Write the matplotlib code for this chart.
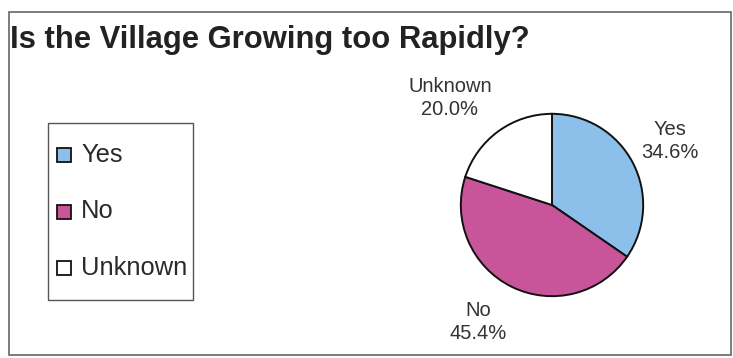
import numpy as np
import matplotlib.pyplot as plt
from matplotlib.patches import Rectangle

plt.rcParams['font.family'] = ['Liberation Sans', 'DejaVu Sans']

title = 'Is the Village Growing too Rapidly?'
categories = ['Yes', 'No', 'Unknown']
shares = [34.6, 45.4, 20.0]
colors = ['#8cc0ea', '#c8559a', '#ffffff']

W, H = 733, 358
fig = plt.figure(figsize=(W / 100, H / 100), dpi=100)
fig.patch.set_facecolor('white')

def px(x, y):
    # pixel coords (top-left origin) -> figure fraction
    return x / W, 1 - y / H

def box(x0, y0, x1, y1, **kw):
    # rectangle given in pixel coords (top-left origin)
    fig.patches.append(Rectangle(px(x0, y1), (x1 - x0) / W, (y1 - y0) / H,
                                 transform=fig.transFigure, **kw))

# chart frame
box(9, 12, 731, 355, fill=False, edgecolor='#666666', linewidth=1.2)
fig.text(*px(10, 40), title, fontsize=22.3, fontweight='bold',
         color='#222222', va='center', ha='left')

# pie
cx, cy, r = 552, 205, 93
ax = fig.add_axes([(cx - r) / W, 1 - (cy + r) / H, 2 * r / W, 2 * r / H])
wedges, _ = ax.pie(shares, colors=colors, startangle=90, counterclock=False,
                   radius=1, wedgeprops=dict(edgecolor='#111111', linewidth=1.4))
ax.set_xlim(-1.02, 1.02)
ax.set_ylim(-1.02, 1.02)
ax.set_aspect('equal')
ax.axis('off')

label_pos = {'Yes': (670, 141), 'No': (478, 322), 'Unknown': (450, 98)}
for cat, val in zip(categories, shares):
    fig.text(*px(*label_pos[cat]), f'{cat}\n{val:.1f}%', fontsize=14.5,
             ha='center', va='center', color='#333333', linespacing=1.3)

# legend, drawn by hand
box(48, 123, 193, 300, fill=False, edgecolor='#555555', linewidth=1.0)
for i, (cat, c) in enumerate(zip(categories, colors)):
    yc = 155 + i * 56.5
    box(57, yc - 7, 71, yc + 7, facecolor=c, edgecolor='#111111', linewidth=1.3)
    fig.text(*px(81, yc), cat, fontsize=18.4, color='#2a2a2a',
             ha='left', va='center')

fig.savefig('out.png', dpi=100)
